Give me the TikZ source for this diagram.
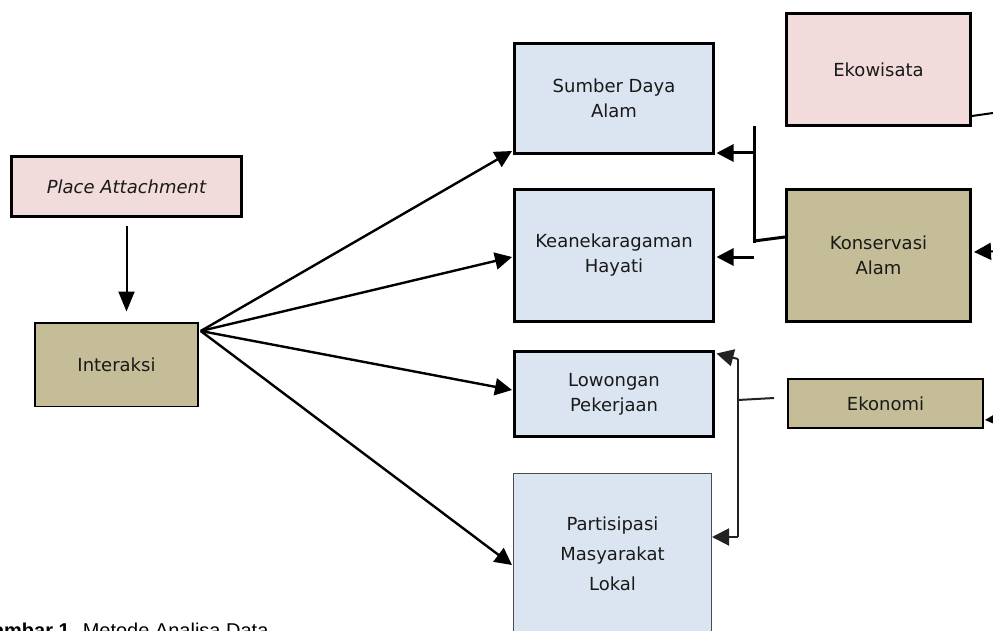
\documentclass[tikz,border=0pt]{standalone}
\usepackage{fontspec}
\setmainfont{DejaVu Sans}
\newfontfamily\capfont{Liberation Sans}
\usepackage{tikz}
\usetikzlibrary{arrows.meta,positioning,calc}
\definecolor{pinkfill}{HTML}{F2DCDB}
\definecolor{bluefill}{HTML}{DBE5F1}
\definecolor{tanfill}{HTML}{C4BD97}
\definecolor{darkline}{HTML}{222222}

\begin{document}
\begin{tikzpicture}[
  x=1pt,y=-1pt,
  box/.style={rectangle,draw=black,line width=3pt,align=center,inner sep=0pt,
    font=\fontsize{18}{25}\selectfont,text=black!90},
  pinkbox/.style={box,fill=pinkfill},
  bluebox/.style={box,fill=bluefill},
  tanbox/.style={box,fill=tanfill},
  arrow/.style={-{Triangle[length=17pt,width=17pt]},line width=2.4pt},
  bar/.style={line width=3pt},
  thinbar/.style={line width=2pt,color=darkline}
]
  \useasboundingbox (0,0) rectangle (993,631);
  \clip (0,0) rectangle (993,631);

  \node[pinkbox,minimum width=230,minimum height=60] (place) at (126.5,186.5) {\itshape Place Attachment};
  \node[tanbox,line width=1.5pt,minimum width=163,minimum height=83.5] (inter) at (116.5,364.5) {Interaksi};

  \node[bluebox,minimum width=199,minimum height=110] (sda) at (614,98.5) {Sumber Daya\\Alam};
  \node[bluebox,minimum width=199,minimum height=132] (kh) at (614,255.5) {Keanekaragaman\\Hayati};
  \node[bluebox,minimum width=199,minimum height=85] (lp) at (614,394) {Lowongan\\Pekerjaan};
  \node[bluebox,line width=1pt,draw=black!70,minimum width=198,minimum height=160,
    font=\fontsize{18}{30}\selectfont] (pml) at (612.5,553.5) {Partisipasi\\Masyarakat\\Lokal};

  \node[pinkbox,minimum width=184,minimum height=112] (eko) at (878.5,69.5) {Ekowisata};
  \node[tanbox,minimum width=184,minimum height=132] (kons) at (878.5,255.5) {Konservasi\\Alam};
  \node[tanbox,line width=2pt,minimum width=195,minimum height=49] (ekon) at (885.5,403.5) {Ekonomi};

  \node[font=\capfont\fontsize{20}{24}\selectfont,anchor=base west] (cap) at (-26,637)
    {\textbf{Gambar 1.} Metode Analisa Data};

  \coordinate (hub) at ($(inter.north east)+(2,9)$);
  \coordinate (pa out) at ($(place.south)+(0,8)$);
  \coordinate (pa in) at ($(place.south)+(0,93.5)$);
  \draw[arrow,line width=2pt,-{Triangle[length=20pt,width=16pt]}] (pa out) -- (pa in);
  \draw[arrow] (hub) -- ($(sda.south west)+(-1,-4)$);
  \draw[arrow] (hub) -- ($(kh.west)+(-1,1.5)$);
  \draw[arrow] (hub) -- ($(lp.west)+(-1,-4)$);
  \draw[arrow] (hub) -- ($(pml.west)+(-1,11.5)$);

  \coordinate (ktop) at (754,126);
  \coordinate (kbot) at (754,243);
  \coordinate (kjoin) at (754,241);
  \draw[bar] (ktop) -- (kbot);
  \draw[bar] ($(kons.west)+(0,-18.5)$) -- (kjoin);
  \draw[arrow,line width=3pt] (754,153) -- ($(sda.east)+(1.5,54.5)$);
  \draw[arrow,line width=3pt] (754,257) -- ($(kh.east)+(1.5,1.5)$);

  \coordinate (etop) at (738,359);
  \coordinate (ebot) at (738,537);
  \coordinate (ejoin) at (738,400);
  \draw[thinbar] (etop) -- (ebot);
  \draw[thinbar] ($(ekon.west)+(-13,-5.5)$) -- (ejoin);
  \draw[thinbar,arrow,line width=2pt] (etop) -- ($(lp.north east)+(1.5,3.5)$);
  \draw[thinbar,arrow,line width=2pt] (ebot) -- ($(pml.east)+(0,-16.5)$);

  \coordinate (eko out) at (1000,112);
  \coordinate (kons in) at (1000,251);
  \coordinate (ekon in) at (1000,419);
  \draw[line width=2pt] ($(eko.east)+(0,46.5)$) -- (eko out);
  \draw[arrow,line width=2pt] (kons in) -- ($(kons.east)+(2,-3.5)$);
  \draw[arrow,line width=2pt] (ekon in) -- ($(ekon.east)+(1,16.5)$);
\end{tikzpicture}
\end{document}
